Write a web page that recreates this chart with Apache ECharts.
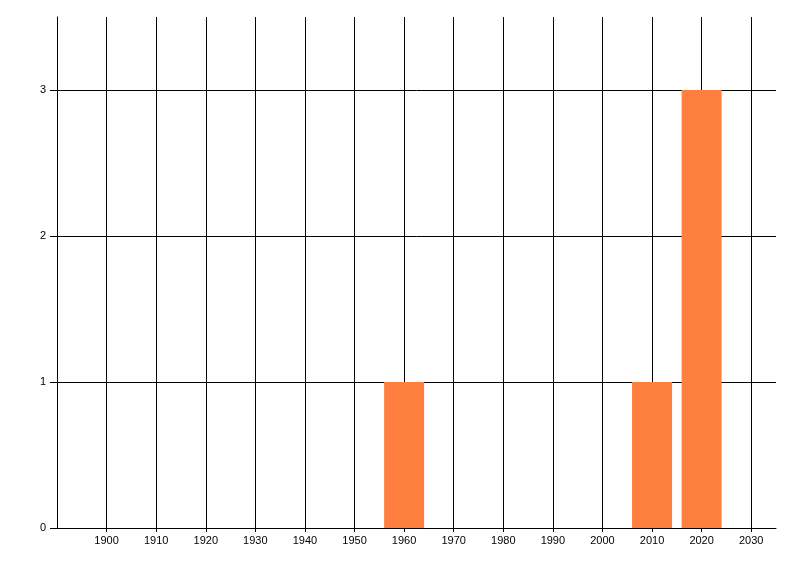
<!DOCTYPE html>
<html><head><meta charset="utf-8">
<script src="https://cdn.jsdelivr.net/npm/echarts@6/dist/echarts.min.js"></script>
<style>html,body{margin:0;padding:0;background:#fff}#c{width:800px;height:576px}</style>
</head><body><div id="c"></div>
<script>
const years = [1960, 2010, 2020];
const counts = [1, 1, 3];
const xTicks = [1900, 1910, 1920, 1930, 1940, 1950, 1960, 1970, 1980, 1990, 2000, 2010, 2020, 2030];
const yTicks = [0, 1, 2, 3];

const chart = echarts.init(document.getElementById('c'), null, {renderer: 'canvas'});
const font = {fontFamily: 'Liberation Sans', fontSize: 11, color: '#000'};
chart.setOption({
  animation: false,
  backgroundColor: '#fff',
  grid: {left: 57, right: 24, top: 17, bottom: 48, containLabel: false},
  xAxis: {
    type: 'value', min: 1890, max: 2035, interval: 10,
    axisLine: {show: true, onZero: false, lineStyle: {color: '#000', width: 1}},
    axisTick: {show: true, length: 4, lineStyle: {color: '#000'}},
    axisLabel: Object.assign({margin: 7, showMinLabel: false, showMaxLabel: false,
      formatter: v => xTicks.includes(v) ? String(v) : ''}, font),
    splitLine: {show: true, showMaxLine: false, lineStyle: {color: '#000', width: 1}}
  },
  yAxis: {
    type: 'value', min: 0, max: 3.5, interval: 1,
    axisLine: {show: true, lineStyle: {color: '#000', width: 1}},
    axisTick: {show: true, length: 7, lineStyle: {color: '#000'}},
    axisLabel: Object.assign({margin: 11, showMaxLabel: false,
      formatter: v => yTicks.includes(v) ? String(v) : ''}, font),
    splitLine: {show: true, showMaxLine: false, lineStyle: {color: '#000', width: 1}}
  },
  series: [{
    type: 'bar',
    data: years.map((y, i) => [y, counts[i]]),
    barWidth: 40,
    itemStyle: {color: '#FF7F40'},
    z: 1
  }]
});
</script></body></html>
